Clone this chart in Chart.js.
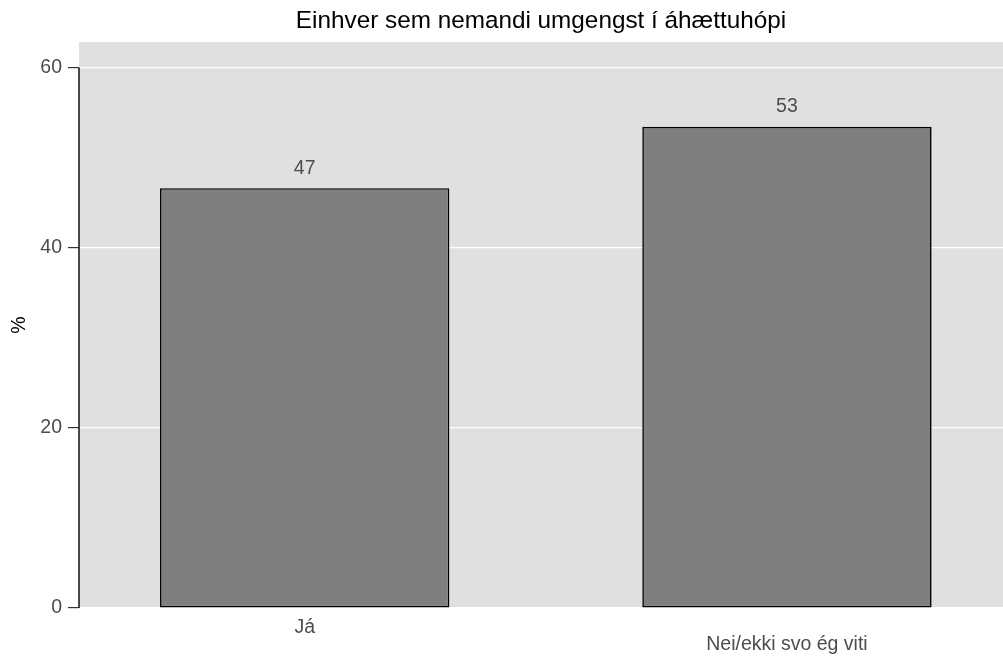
<!DOCTYPE html>
<html>
<head>
<meta charset="utf-8">
<script src="https://cdn.jsdelivr.net/npm/chart.js@4/dist/chart.umd.min.js"></script>
<style>
  html, body { margin: 0; padding: 0; background: #ffffff; }
</style>
</head>
<body>
<canvas id="chart" width="1003" height="662"></canvas>
<script>
// data
var categories = [["Já"], ["", "Nei/ekki svo ég viti"]];
var positions = [1, 2];
var values = [46.6, 53.4];
var yTicks = [0, 20, 40, 60];

var FONT = "'Liberation Sans', Arial, sans-serif";

// grey panel behind the bars, y axis line only across the breaks, value labels
var panelPlugin = {
    id: "panel",
    beforeDraw: function (chart) {
        var a = chart.chartArea;
        var ctx = chart.ctx;
        ctx.save();
        ctx.fillStyle = "#e0e0e0";
        ctx.fillRect(a.left, a.top, a.right - a.left, a.bottom - a.top);
        ctx.restore();
    },
    afterDraw: function (chart) {
        var ctx = chart.ctx;
        var y = chart.scales.y;
        var x0 = chart.chartArea.left;
        ctx.save();
        ctx.strokeStyle = "#000000";
        ctx.lineWidth = 1.4;
        ctx.beginPath();
        ctx.moveTo(x0, y.getPixelForValue(yTicks[0]));
        ctx.lineTo(x0, y.getPixelForValue(yTicks[yTicks.length - 1]));
        ctx.stroke();

        // labels over the bars
        var meta = chart.getDatasetMeta(0);
        ctx.fillStyle = "#4d4d4d";
        ctx.font = "19.5px " + FONT;
        ctx.textAlign = "center";
        ctx.textBaseline = "middle";
        meta.data.forEach(function (bar, i) {
            ctx.fillText(String(Math.round(values[i])), bar.x, bar.y - 20);
        });
        ctx.restore();
    }
};

var ctx = document.getElementById("chart").getContext("2d");
new Chart(ctx, {
    type: "bar",
    data: {
        datasets: [{
            data: values.map(function (v, i) { return { x: positions[i], y: v }; }),
            backgroundColor: "#7f7f7f",
            borderColor: "#000000",
            borderWidth: 1.6,
            borderSkipped: false,
            barPercentage: 0.6,
            categoryPercentage: 1
        }]
    },
    options: {
        responsive: false,
        animation: false,
        layout: { padding: 0 },
        plugins: {
            legend: { display: false },
            tooltip: { enabled: false },
            title: {
                display: true,
                text: "Einhver sem nemandi umgengst í áhættuhópi",
                color: "#000000",
                font: { family: FONT, size: 24.3, weight: "normal", lineHeight: 1.2 },
                padding: { top: 7, bottom: 6 },
                fullSize: false
            }
        },
        scales: {
            x: {
                type: "linear",
                offset: false,
                min: 0.532,
                max: 2.448,
                afterBuildTicks: function (scale) {
                    scale.ticks = positions.map(function (p) { return { value: p }; });
                },
                afterFit: function (scale) { scale.height = 54; },
                grid: { display: false, drawTicks: false, offset: false },
                border: { display: false },
                ticks: {
                    color: "#4d4d4d",
                    font: { family: FONT, size: 19.5, lineHeight: 0.87 },
                    padding: 11,
                    maxRotation: 0,
                    autoSkip: false,
                    callback: function (value) {
                        var i = positions.indexOf(value);
                        return i >= 0 ? categories[i] : "";
                    }
                }
            },
            y: {
                min: 0,
                max: 62.8,
                afterBuildTicks: function (scale) {
                    scale.ticks = yTicks.map(function (t) { return { value: t }; });
                },
                afterFit: function (scale) { scale.width = 79; },
                grid: {
                    color: "#ffffff",
                    lineWidth: 1.2,
                    tickColor: "#333333",
                    tickLength: 11,
                    drawTicks: true
                },
                border: { display: false },
                ticks: {
                    color: "#4d4d4d",
                    font: { family: FONT, size: 19.5 },
                    padding: 6
                },
                title: {
                    display: true,
                    text: "%",
                    color: "#000000",
                    font: { family: FONT, size: 19.5 },
                    padding: { top: 8, bottom: 0 }
                }
            }
        }
    },
    plugins: [panelPlugin]
});
</script>
</body>
</html>
